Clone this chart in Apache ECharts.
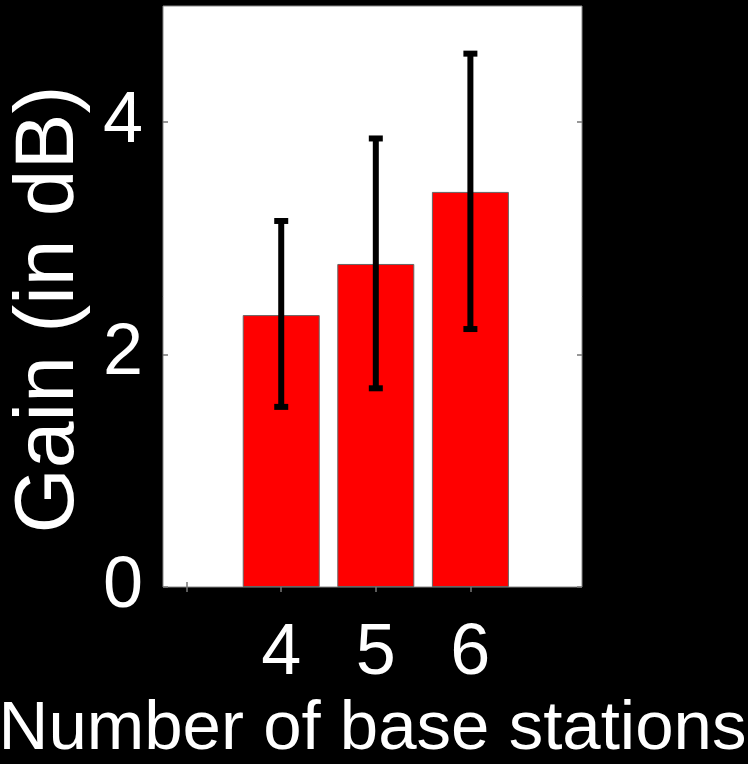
<!DOCTYPE html>
<html>
<head>
<meta charset="utf-8">
<script src="https://cdn.jsdelivr.net/npm/echarts@6/dist/echarts.min.js"></script>
<style>
  html, body { margin: 0; padding: 0; background: #000; }
  #chart { width: 748px; height: 764px; }
</style>
</head>
<body>
<div id="chart"></div>
<script>
// Number of base stations and the mean gain for each, with error-bar limits
const stations = [4, 5, 6];
const gainMean = [2.34, 2.78, 3.40];
const gainLow = [1.55, 1.71, 2.22];
const gainHigh = [3.15, 3.86, 4.59];
const yTicks = [0, 2, 4];
const xTicks = [3, 4, 5, 6];
const xTickLabels = [4, 5, 6];

const FONT = '"Liberation Sans", Arial, sans-serif';

const barData = stations.map((s, i) => [s, gainMean[i]]);
const errData = stations.map((s, i) => [s, gainLow[i], gainHigh[i]]);

const chart = echarts.init(document.getElementById('chart'));

const tickStyle = { show: true, inside: true, length: 5, lineStyle: { color: '#777', width: 1.5 } };

chart.setOption({
  backgroundColor: '#000',
  animation: false,
  grid: {
    left: 163, top: 6, right: 166, bottom: 177,
    containLabel: false, outerBoundsMode: 'none',
    show: true, backgroundColor: '#fff', borderColor: '#888', borderWidth: 1
  },
  xAxis: [
    {
      type: 'value', min: 2.75, max: 7.18, position: 'bottom',
      name: 'Number of base stations', nameLocation: 'middle', nameGap: 108,
      nameTextStyle: { color: '#fff', fontFamily: FONT, fontSize: 69 },
      axisLine: { show: false },
      splitLine: { show: false },
      axisTick: Object.assign({ customValues: xTicks }, tickStyle),
      axisLabel: {
        customValues: xTickLabels, color: '#fff', fontFamily: FONT, fontSize: 72, margin: 31
      }
    },
    {
      type: 'value', min: 2.75, max: 7.18, position: 'top',
      axisLine: { show: false }, splitLine: { show: false },
      axisTick: Object.assign({ customValues: xTicks }, tickStyle),
      axisLabel: { show: false }
    }
  ],
  yAxis: [
    {
      type: 'value', min: 0, max: 5, position: 'left',
      name: 'Gain (in dB)', nameLocation: 'middle', nameGap: 70, nameRotate: 90,
      nameTextStyle: { color: '#fff', fontFamily: FONT, fontSize: 84, padding: [0, 26, 0, 0] },
      axisLine: { show: false }, splitLine: { show: false },
      axisTick: Object.assign({ customValues: yTicks }, tickStyle),
      axisLabel: { customValues: yTicks, color: '#fff', fontFamily: FONT, fontSize: 72, margin: 20 }
    },
    {
      type: 'value', min: 0, max: 5, position: 'right',
      axisLine: { show: false }, splitLine: { show: false },
      axisTick: Object.assign({ customValues: yTicks }, tickStyle),
      axisLabel: { show: false }
    }
  ],
  series: [
    {
      type: 'bar',
      data: barData,
      barWidth: 77,
      itemStyle: { color: '#ff0000', borderColor: '#666', borderWidth: 1 }
    },
    {
      type: 'custom',
      data: errData,
      z: 10,
      renderItem: function (params, api) {
        const x = api.value(0);
        const lo = api.coord([x, api.value(1)]);
        const hi = api.coord([x, api.value(2)]);
        const cap = 7;
        const style = { stroke: '#000', lineWidth: 6, lineCap: 'butt' };
        return {
          type: 'group',
          children: [
            { type: 'line', shape: { x1: lo[0], y1: lo[1], x2: hi[0], y2: hi[1] }, style: style },
            { type: 'line', shape: { x1: hi[0] - cap, y1: hi[1], x2: hi[0] + cap, y2: hi[1] }, style: style },
            { type: 'line', shape: { x1: lo[0] - cap, y1: lo[1], x2: lo[0] + cap, y2: lo[1] }, style: style }
          ]
        };
      }
    }
  ]
});
</script>
</body>
</html>
